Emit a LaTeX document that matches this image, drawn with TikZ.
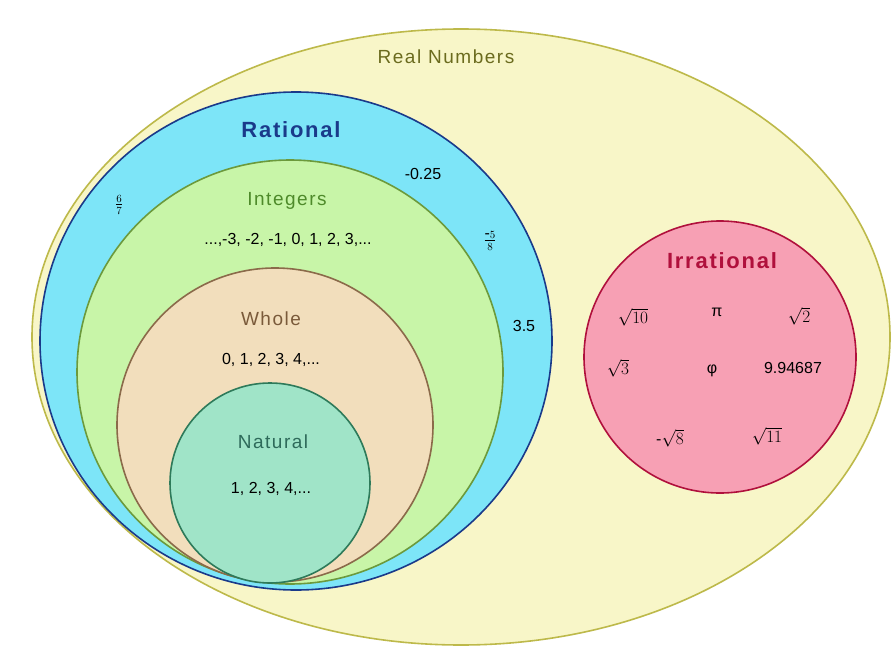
\documentclass[tikz,border=0pt]{standalone}
\usepackage{fontspec}
\setmainfont{Liberation Sans}
\newfontfamily\spaced[LetterSpace=8]{Liberation Sans}
\definecolor{realF}{HTML}{F8F6C8}\definecolor{realD}{HTML}{BDB94A}\definecolor{realT}{HTML}{6B6B1E}
\definecolor{ratF}{HTML}{7DE5F8}\definecolor{ratD}{HTML}{1A3A8A}
\definecolor{intF}{HTML}{C8F5A8}\definecolor{intD}{HTML}{6C9A3C}\definecolor{intT}{HTML}{4E8A2A}
\definecolor{whF}{HTML}{F2DEBC}\definecolor{whD}{HTML}{8B6A4A}\definecolor{whT}{HTML}{7A5A3A}
\definecolor{natF}{HTML}{A0E4C8}\definecolor{natD}{HTML}{2E7A5A}\definecolor{natT}{HTML}{2E6A5A}
\definecolor{irF}{HTML}{F7A0B4}\definecolor{irD}{HTML}{B0103C}
\begin{document}
\begin{tikzpicture}[x=1pt,y=-1pt,
  setshape/.style={line width=1.6pt},
  title/.style={font=\spaced\fontsize{19}{22}\selectfont},
  btitle/.style={font=\spaced\bfseries\fontsize{22}{26}\selectfont},
  num/.style={font=\fontsize{16}{19}\selectfont}]
\useasboundingbox (0,0) rectangle (893,663);
\fill[white] (0,0) rectangle (893,663);
\filldraw[setshape,fill=realF,draw=realD] (461,337) ellipse [x radius=429,y radius=308];
\filldraw[setshape,fill=ratF,draw=ratD] (296,341) ellipse [x radius=256,y radius=249];
\filldraw[setshape,fill=intF,draw=intD] (290,372) ellipse [x radius=213,y radius=212];
\filldraw[setshape,fill=whF,draw=whD] (275,425) ellipse [x radius=158,y radius=157];
\filldraw[setshape,fill=natF,draw=natD] (270,483) circle [radius=100];
\filldraw[setshape,fill=irF,draw=irD] (720,357) circle [radius=136];
\node[title,text=realT] (real) at (446,57) {Real Numbers};
\node[btitle,text=ratD] (rat) at (291,130) {Rational};
\node[title,text=intT] (int) at (287,201) {Integers};
\node[num] (intn) at (288,240) {...,-3, -2, -1, 0, 1, 2, 3,...};
\node[title,text=whT] (wh) at (271,319) {Whole};
\node[num] (whn) at (271,360) {0, 1, 2, 3, 4,...};
\node[title,text=natT] (nat) at (273,442) {Natural};
\node[num] (natn) at (271,489) {1, 2, 3, 4,...};
\node[num] (f1) at (119,205) {$\frac{6}{7}$};
\node[num] (f2) at (423,174) {-0.25};
\node[num] (f3) at (490,241) {$\frac{\textrm{-}5}{8}$};
\node[num] (f4) at (524,326) {3.5};
\node[btitle,text=irD] (ir) at (722,261) {Irrational};
\node[num] (i1) at (633,317) {$\sqrt{10}$};
\node[num] (i2) at (717,312) {π};
\node[num] (i3) at (799,316) {$\sqrt{2}$};
\node[num] (i4) at (618,368) {$\sqrt{3}$};
\node[num] (i5) at (712,371) {φ};
\node[num] (i6) at (793,368) {9.94687};
\node[num] (i7) at (670,438) {-$\sqrt{8}$};
\node[num] (i8) at (767,436) {$\sqrt{11}$};
\end{tikzpicture}
\end{document}
